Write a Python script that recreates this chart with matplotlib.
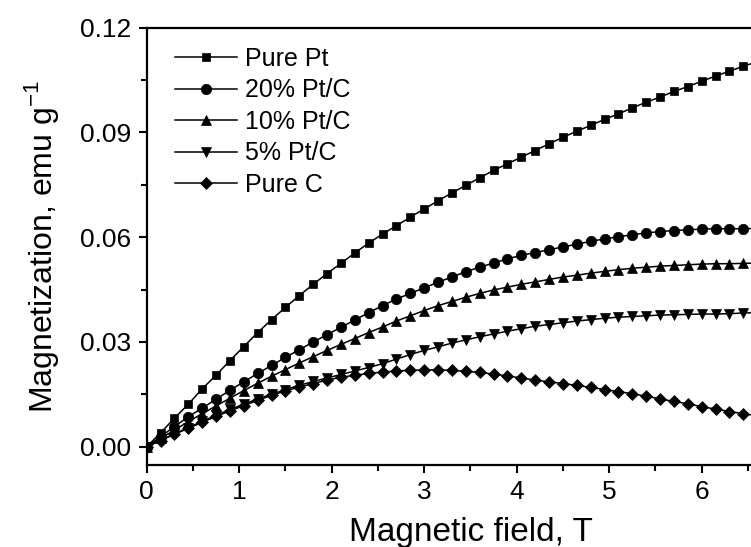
import numpy as np
import matplotlib
matplotlib.use('Agg')
import matplotlib.pyplot as plt

plt.rcParams['font.family'] = ['Liberation Sans', 'DejaVu Sans']
plt.rcParams['mathtext.fontset'] = 'custom'
plt.rcParams['mathtext.rm'] = 'Liberation Sans'

# Magnetic field (T), measured every 0.15 T
field = [0.00, 0.15, 0.30, 0.45, 0.60, 0.75, 0.90, 1.05, 1.20, 1.35,
         1.50, 1.65, 1.80, 1.95, 2.10, 2.25, 2.40, 2.55, 2.70, 2.85,
         3.00, 3.15, 3.30, 3.45, 3.60, 3.75, 3.90, 4.05, 4.20, 4.35,
         4.50, 4.65, 4.80, 4.95, 5.10, 5.25, 5.40, 5.55, 5.70, 5.85,
         6.00, 6.15, 6.30, 6.45, 6.60]

pure_pt = [0.0000, 0.0040, 0.0082, 0.0122, 0.0166, 0.0205, 0.0247, 0.0287, 0.0327, 0.0364,
           0.0399, 0.0433, 0.0465, 0.0496, 0.0525, 0.0555, 0.0583, 0.0609, 0.0633, 0.0657,
           0.0681, 0.0704, 0.0727, 0.0748, 0.0770, 0.0791, 0.0810, 0.0829, 0.0848, 0.0867,
           0.0886, 0.0903, 0.0920, 0.0937, 0.0953, 0.0970, 0.0986, 0.1001, 0.1017, 0.1031,
           0.1046, 0.1061, 0.1075, 0.1089, 0.1102]

pt20 = [0.0000, 0.0029, 0.0058, 0.0086, 0.0111, 0.0136, 0.0162, 0.0186, 0.0210, 0.0233,
        0.0256, 0.0278, 0.0300, 0.0321, 0.0342, 0.0363, 0.0384, 0.0404, 0.0423, 0.0439,
        0.0455, 0.0471, 0.0486, 0.0501, 0.0514, 0.0526, 0.0538, 0.0548, 0.0556, 0.0564,
        0.0572, 0.0580, 0.0588, 0.0595, 0.0601, 0.0607, 0.0612, 0.0616, 0.0619, 0.0621,
        0.0623, 0.0624, 0.0624, 0.0624, 0.0625]

pt10 = [0.0000, 0.0024, 0.0048, 0.0072, 0.0095, 0.0117, 0.0139, 0.0161, 0.0182, 0.0202,
        0.0221, 0.0240, 0.0258, 0.0276, 0.0293, 0.0310, 0.0327, 0.0343, 0.0360, 0.0375,
        0.0390, 0.0404, 0.0416, 0.0428, 0.0439, 0.0449, 0.0457, 0.0465, 0.0472, 0.0479,
        0.0486, 0.0491, 0.0497, 0.0502, 0.0507, 0.0511, 0.0514, 0.0517, 0.0519, 0.0521,
        0.0523, 0.0524, 0.0524, 0.0525, 0.0526]

pt5 = [0.0000, 0.0018, 0.0037, 0.0055, 0.0073, 0.0090, 0.0107, 0.0122, 0.0137, 0.0151,
       0.0164, 0.0176, 0.0187, 0.0197, 0.0207, 0.0217, 0.0227, 0.0238, 0.0251, 0.0264,
       0.0276, 0.0286, 0.0297, 0.0306, 0.0315, 0.0323, 0.0331, 0.0338, 0.0345, 0.0350,
       0.0355, 0.0360, 0.0364, 0.0368, 0.0371, 0.0373, 0.0375, 0.0377, 0.0378, 0.0379,
       0.0380, 0.0380, 0.0381, 0.0383, 0.0384]

pure_c = [0.0000, 0.0018, 0.0036, 0.0053, 0.0070, 0.0087, 0.0103, 0.0118, 0.0133, 0.0147,
          0.0160, 0.0171, 0.0181, 0.0191, 0.0199, 0.0205, 0.0210, 0.0214, 0.0217, 0.0219,
          0.0220, 0.0220, 0.0219, 0.0216, 0.0213, 0.0208, 0.0203, 0.0197, 0.0191, 0.0186,
          0.0181, 0.0176, 0.0170, 0.0164, 0.0158, 0.0152, 0.0145, 0.0137, 0.0130, 0.0123,
          0.0115, 0.0108, 0.0101, 0.0095, 0.0089]

series = [
    ('Pure Pt', pure_pt, 's', 6),
    ('20% Pt/C', pt20, 'o', 7.5),
    ('10% Pt/C', pt10, '^', 7.5),
    ('5% Pt/C', pt5, 'v', 7.5),
    ('Pure C', pure_c, 'D', 6),
]

fig = plt.figure(figsize=(7.51, 5.47), dpi=100)
# axes run past the right edge of the picture, as in the cropped original
ax = fig.add_axes([146.7 / 751, 82 / 547, 647.5 / 751, 437.5 / 547])

for name, vals, mk, ms in series:
    ax.plot(field, vals, color='black', lw=1.1, marker=mk, ms=ms,
            markeredgewidth=0.5, label=name)

ax.set_xlim(0, 7)
ax.set_ylim(-0.0052, 0.12)
ax.set_xticks(np.arange(0, 7, 1))
ax.set_xticks(np.arange(0.5, 7, 1), minor=True)
ax.set_yticks([0.00, 0.03, 0.06, 0.09, 0.12])
ax.set_yticks([0.015, 0.045, 0.075, 0.105], minor=True)
ax.set_yticklabels(['0.00', '0.03', '0.06', '0.09', '0.12'])
ax.tick_params(which='major', direction='out', length=6, width=1.5, labelsize=19, pad=5)
ax.tick_params(which='minor', direction='out', length=4, width=1.5)
for sp in ax.spines.values():
    sp.set_linewidth(1.6)

ax.set_xlabel('Magnetic field, T', fontsize=24, labelpad=9)
ax.set_ylabel('Magnetization, emu g$^{\\mathregular{-1}}$', fontsize=23, labelpad=14)

ax.legend(loc='upper left', frameon=False, fontsize=18, handlelength=2.5,
          handletextpad=0.3, labelspacing=0.3, borderaxespad=0.3, borderpad=0.3,
          bbox_to_anchor=(0.02, 0.99))

fig.savefig('out.png', dpi=100)
